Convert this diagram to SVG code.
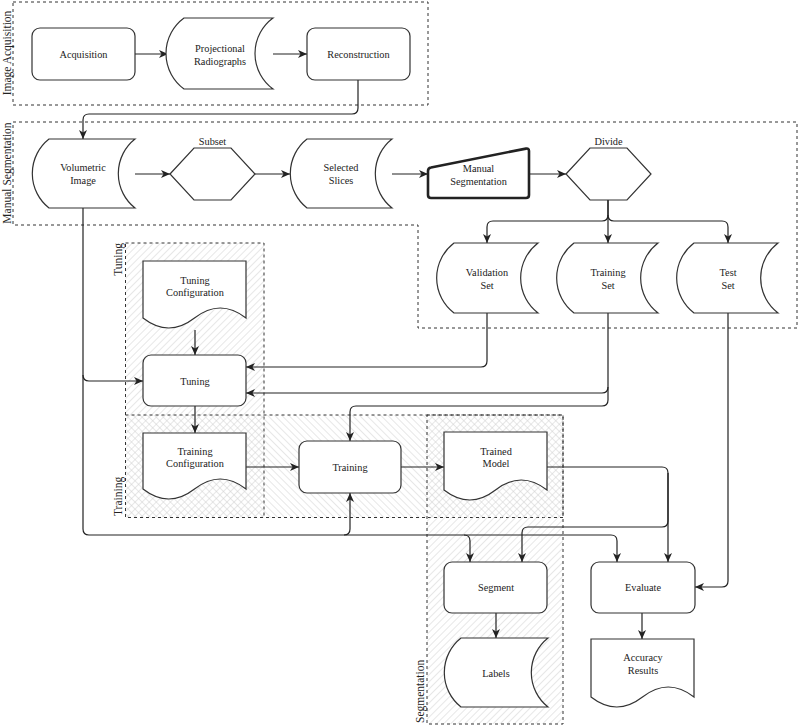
<svg xmlns="http://www.w3.org/2000/svg" width="800" height="728" viewBox="0 0 800 728" font-family="'Liberation Serif', 'Times New Roman', serif">
<style>
.node{fill:#fff;stroke:#333;stroke-width:1.2}
.bold{fill:#fff;stroke:#222;stroke-width:2.6;stroke-linejoin:round}
.cont{stroke:#333;stroke-width:1;stroke-dasharray:3 3}
.edge{fill:none;stroke:#222;stroke-width:1.2;marker-end:url(#arr)}
text{font-family:"Liberation Serif","Times New Roman",serif;font-size:10.3px;fill:#222;text-anchor:middle}
.clabel{font-size:11.5px}
</style>
<defs>
<marker id="arr" markerWidth="10" markerHeight="8" refX="9" refY="4" orient="auto" markerUnits="userSpaceOnUse"><path d="M0,0 L9,4 L0,8 L2.5,4 Z" fill="#222"/></marker>
<pattern id="hatchF" width="5" height="5" patternUnits="userSpaceOnUse" patternTransform="rotate(45)"><line x1="0" y1="0" x2="0" y2="5" stroke="#cfcfcf" stroke-width="1"/></pattern>
<pattern id="hatchB" width="5" height="5" patternUnits="userSpaceOnUse" patternTransform="rotate(-45)"><line x1="0" y1="0" x2="0" y2="5" stroke="#cfcfcf" stroke-width="1"/></pattern>
</defs>

<g id="containers">
<g id="c-image-acquisition">
<rect class="cont" fill="none" x="13" y="2" width="415" height="103"/>
<text class="clabel" transform="translate(11,53) rotate(-90)">Image Acquisition</text>
</g>
<g id="c-manual-segmentation">
<path class="cont" fill="none" d="M13,122 L797,122 L797,328 L418,328 L418,225 L13,225 Z"/>
<text class="clabel" transform="translate(11,173) rotate(-90)">Manual Segmentation</text>
</g>
<g id="c-tuning">
<rect x="125.5" y="243" width="138.5" height="274.5" fill="url(#hatchF)" class="cont"/>
<text class="clabel" style="text-anchor:end" transform="translate(122,243) rotate(-90)">Tuning</text>
</g>
<g id="c-training">
<rect x="125.5" y="415" width="437.5" height="102.5" fill="url(#hatchB)" class="cont"/>
<text class="clabel" style="text-anchor:start" transform="translate(122,516) rotate(-90)">Training</text>
</g>
<g id="c-segmentation">
<rect x="427" y="415" width="136" height="309" fill="url(#hatchF)" class="cont"/>
<text class="clabel" style="text-anchor:start" transform="translate(424,723) rotate(-90)">Segmentation</text>
</g>
</g>

<g id="connectors">
<path class="edge" d="M135,54 L168,54"/>
<path class="edge" d="M273,54 L307,54"/>
<path class="edge" d="M358,80 L358,108 Q358,114 352,114 L89,114 Q83,114 83,120 L83,139"/>
<path class="edge" d="M135,174 L170,174"/>
<path class="edge" d="M255,174 L290,174"/>
<path class="edge" d="M392,174 L428,174"/>
<path class="edge" d="M529,174 L566,174"/>
<path class="edge" d="M608,200 L608,215 Q608,221 602,221 L493,221 Q487,221 487,227 L487,243"/>
<path class="edge" d="M608,200 L608,243"/>
<path class="edge" d="M608,215 Q608,221 614,221 L722,221 Q728,221 728,227 L728,243"/>
<path class="edge" d="M487,313 L487,361 Q487,367 481,367 L246,367"/>
<path class="edge" d="M608,313 L608,387 Q608,393 602,393 L246,393"/>
<path class="edge" d="M608,387 L608,400 Q608,406 602,406 L356,406 Q350,406 350,412 L350,441"/>
<path class="edge" d="M728,313 L728,581 Q728,587 722,587 L695,587"/>
<path class="edge" d="M83,208 L83,375 Q83,381 89,381 L143,381"/>
<path class="edge" d="M83,375 L83,529 Q83,535 89,535 L344,535 Q350,535 350,529 L350,493"/>
<path class="edge" d="M344,535 L464,535 Q470,535 470,541 L470,562"/>
<path class="edge" d="M464,535 L611,535 Q617,535 617,541 L617,562"/>
<path class="edge" d="M195,330 L195,355"/>
<path class="edge" d="M195,406 L195,433"/>
<path class="edge" d="M246,467 L299,467"/>
<path class="edge" d="M401,467 L444,467"/>
<path class="edge" d="M547,467 L662,467 Q668,467 668,473 L668,562"/>
<path class="edge" d="M668,473 L668,521 Q668,527 662,527 L528,527 Q522,527 522,533 L522,562"/>
<path class="edge" d="M496,613 L496,638"/>
<path class="edge" d="M642,613 L642,639"/>
</g>

<g id="acquisition">
<rect class="node" x="32" y="28" width="103" height="52" rx="8"/>
<text x="83.5" y="57.5">Acquisition</text>
</g>
<g id="projectional-radiographs">
<path class="node" d="M184,18 L273,18 A44 44 0 0 0 273,89 L184,89 A44 44 0 0 1 184,18 Z"/>
<text x="220" y="51.5">Projectional</text>
<text x="220" y="64.5">Radiographs</text>
</g>
<g id="reconstruction">
<rect class="node" x="307" y="28" width="103" height="52" rx="8"/>
<text x="358.5" y="57.5">Reconstruction</text>
</g>

<g id="volumetric-image">
<path class="node" d="M49,139 L135,139 A44 44 0 0 0 135,208 L49,208 A44 44 0 0 1 49,139 Z"/>
<text x="83" y="171">Volumetric</text>
<text x="83" y="184">Image</text>
</g>
<g id="subset">
<polygon class="node" points="170,174 194,148 231,148 255,174 231,200 194,200"/>
<text x="212.5" y="144.5">Subset</text>
</g>
<g id="selected-slices">
<path class="node" d="M307,139 L392,139 A44 44 0 0 0 392,208 L307,208 A44 44 0 0 1 307,139 Z"/>
<text x="341" y="171">Selected</text>
<text x="341" y="184">Slices</text>
</g>
<g id="manual-segmentation">
<path class="bold" d="M431,167.5 L526,148.6 Q529,148 529,151 L529,195 Q529,198 526,198 L431,198 Q428,198 428,195 L428,171 Q428,168 431,167.5 Z"/>
<text x="478.5" y="171.5">Manual</text>
<text x="478.5" y="184.5">Segmentation</text>
</g>
<g id="divide">
<polygon class="node" points="566,174 590,148 627,148 651,174 627,200 590,200"/>
<text x="608.5" y="144.5">Divide</text>
</g>

<g id="validation-set">
<path class="node" d="M454,243 L538,243 A44 44 0 0 0 538,313 L454,313 A44 44 0 0 1 454,243 Z"/>
<text x="487" y="275.5">Validation</text>
<text x="487" y="288.5">Set</text>
</g>
<g id="training-set">
<path class="node" d="M574,243 L658,243 A44 44 0 0 0 658,313 L574,313 A44 44 0 0 1 574,243 Z"/>
<text x="608" y="275.5">Training</text>
<text x="608" y="288.5">Set</text>
</g>
<g id="test-set">
<path class="node" d="M694,243 L778,243 A44 44 0 0 0 778,313 L694,313 A44 44 0 0 1 694,243 Z"/>
<text x="728" y="275.5">Test</text>
<text x="728" y="288.5">Set</text>
</g>

<g id="tuning-configuration">
<path class="node" d="M143,261 L246,261 L246,318 Q220.25,298 194.5,318 Q168.75,338 143,318 Z"/>
<text x="195" y="283.5">Tuning</text>
<text x="195" y="296">Configuration</text>
</g>
<g id="tuning">
<rect class="node" x="143" y="355" width="103" height="51" rx="8"/>
<text x="195" y="384.5">Tuning</text>
</g>
<g id="training-configuration">
<path class="node" d="M143,433 L246,433 L246,489 Q220.25,469 194.5,489 Q168.75,509 143,489 Z"/>
<text x="195" y="454.5">Training</text>
<text x="195" y="467">Configuration</text>
</g>
<g id="training">
<rect class="node" x="299" y="441" width="102" height="52" rx="8"/>
<text x="350" y="470.5">Training</text>
</g>
<g id="trained-model">
<path class="node" d="M444,432 L547,432 L547,490 Q521.25,470 495.5,490 Q469.75,510 444,490 Z"/>
<text x="496" y="454.5">Trained</text>
<text x="496" y="467">Model</text>
</g>

<g id="segment">
<rect class="node" x="444" y="562" width="103" height="51" rx="8"/>
<text x="496" y="590.5">Segment</text>
</g>
<g id="evaluate">
<rect class="node" x="591" y="562" width="104" height="51" rx="8"/>
<text x="643" y="590.5">Evaluate</text>
</g>
<g id="labels">
<path class="node" d="M461,638 L548,638 A44 44 0 0 0 548,707 L461,707 A44 44 0 0 1 461,638 Z"/>
<text x="496" y="676.5">Labels</text>
</g>
<g id="accuracy-results">
<path class="node" d="M591,639 L694,639 L694,697 Q668.25,677 642.5,697 Q616.75,717 591,697 Z"/>
<text x="643" y="661">Accuracy</text>
<text x="643" y="673.5">Results</text>
</g>
</svg>
